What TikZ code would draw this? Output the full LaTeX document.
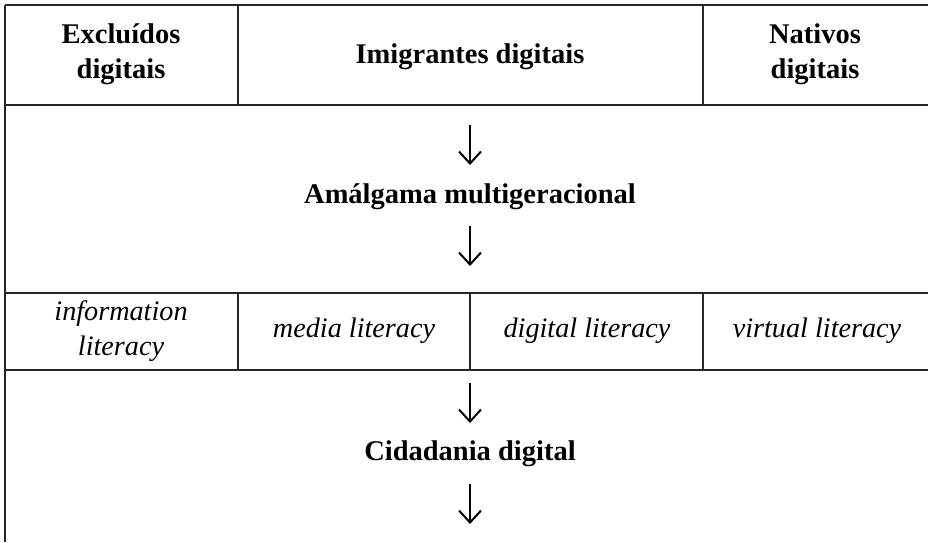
\documentclass[tikz,border=0pt]{standalone}
\usepackage{fontspec}
\setmainfont{Liberation Serif}
\usetikzlibrary{arrows.meta}

\begin{document}
\begin{tikzpicture}[x=1pt,y=-1pt,
    rule/.style={line width=1.1pt,black!85},
    head/.style={font=\fontsize{28.5}{35}\selectfont\bfseries,align=center,inner sep=0pt},
    lit/.style={font=\fontsize{28.2}{35}\selectfont\itshape,align=center,inner sep=0pt},
    down/.style={line width=2pt,-{Straight Barb[length=12pt,width=22pt]}}]
  \useasboundingbox (0,0) rectangle (928,542);
  \foreach \y in {5,105,293,370}
    \draw[rule] (5,\y) -- (928,\y);
  \draw[rule] (5,5) -- (5,542);
  \foreach \x in {238,703}
    \draw[rule] (\x,5) -- (\x,105);
  \foreach \x in {238,470,703}
    \draw[rule] (\x,293) -- (\x,370);

  \node[head] (excl) at (121,54) {Excluídos\\digitais};
  \node[head,anchor=base] (imig) at (470,63) {Imigrantes digitais};
  \node[head] (nat) at (815,54) {Nativos\\digitais};
  \node[head,anchor=base] (amal) at (470,203) {Amálgama multigeracional};
  \node[lit] (info) at (121,331) {information\\literacy};
  \node[lit,anchor=base] (media) at (354,337) {media literacy};
  \node[lit,anchor=base] (digl) at (587,337) {digital literacy};
  \node[lit,anchor=base] (virt) at (817,337) {virtual literacy};
  \node[head,anchor=base] (cid) at (470,460) {Cidadania digital};

  \coordinate (a1) at (470,125); \coordinate (b1) at (470,165);
  \coordinate (a2) at (470,226); \coordinate (b2) at (470,266);
  \coordinate (a3) at (470,383); \coordinate (b3) at (470,423);
  \coordinate (a4) at (470,484); \coordinate (b4) at (470,524);
  \foreach \s/\e in {a1/b1,a2/b2,a3/b3,a4/b4}
    \draw[down] (\s) -- (\e);
\end{tikzpicture}
\end{document}
